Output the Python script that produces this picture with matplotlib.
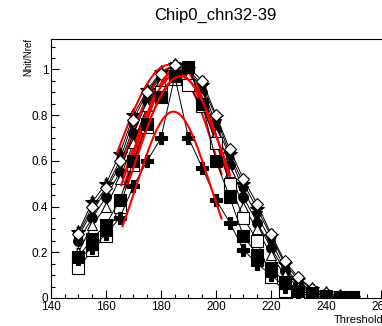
import numpy as np
import matplotlib
matplotlib.use("Agg")
import matplotlib.pyplot as plt
from matplotlib.ticker import MultipleLocator

plt.rcParams['font.family'] = ['Liberation Sans', 'DejaVu Sans']

title = "Chip0_chn32-39"
xlabel = "Threshold"
ylabel = "Nhit/Nref"

thresholds = [150, 155, 160, 165, 170, 175, 180, 185, 190, 195, 200,
              205, 210, 215, 220, 225, 230, 235, 240, 245, 250]

chn32 = [0.29, 0.42, 0.50, 0.63, 0.80, 0.91, 0.99, 1.02, 1.00, 0.93, 0.79,
         0.63, 0.50, 0.39, 0.27, 0.15, 0.08, 0.04, 0.02, 0.01, 0.00]
chn33 = [0.27, 0.38, 0.47, 0.58, 0.75, 0.88, 0.97, 1.01, 0.99, 0.92, 0.76,
         0.62, 0.47, 0.36, 0.25, 0.13, 0.07, 0.03, 0.01, 0.00, 0.00]
chn34 = [0.25, 0.35, 0.44, 0.55, 0.72, 0.86, 0.96, 1.00, 0.98, 0.90, 0.74,
         0.58, 0.44, 0.33, 0.22, 0.12, 0.06, 0.02, 0.01, 0.00, 0.00]
chn35 = [0.20, 0.32, 0.40, 0.52, 0.68, 0.84, 0.95, 1.00, 0.97, 0.88, 0.72,
         0.55, 0.40, 0.30, 0.19, 0.10, 0.05, 0.02, 0.01, 0.00, 0.00]
chn36 = [0.28, 0.40, 0.48, 0.60, 0.78, 0.90, 0.98, 1.02, 1.01, 0.95, 0.80,
         0.65, 0.52, 0.41, 0.28, 0.16, 0.09, 0.04, 0.02, 0.01, 0.00]
chn37 = [0.13, 0.21, 0.27, 0.40, 0.58, 0.75, 0.90, 0.96, 0.93, 0.84, 0.68,
         0.50, 0.35, 0.25, 0.09, 0.03, 0.00, 0.00, 0.00, 0.00, 0.00]
chn38 = [0.17, 0.22, 0.28, 0.35, 0.49, 0.60, 0.70, 0.97, 0.70, 0.57, 0.43,
         0.33, 0.21, 0.15, 0.10, 0.05, 0.02, 0.01, 0.00, 0.00, 0.00]
chn39 = [0.18, 0.26, 0.32, 0.43, 0.60, 0.76, 0.88, 0.97, 1.01, 0.85, 0.60,
         0.44, 0.27, 0.19, 0.13, 0.07, 0.03, 0.02, 0.01, 0.005, 0.005]

channels = [chn32, chn33, chn34, chn35, chn36, chn37, chn38, chn39]
errors = [0.02] * len(thresholds)

# Gaussian fit parameters per channel: amplitude, mean, sigma, range low, range high
fit_amp = [1.02, 1.01, 1.00, 1.01, 0.99, 0.98, 0.815, 0.97]
fit_mean = [183.0, 184.5, 185.5, 186.5, 185.0, 186.0, 184.5, 187.0]
fit_sigma = [19.5, 18.0, 17.0, 16.0, 15.5, 17.5, 13.4, 16.5]
fit_lo = [164.0, 165.0, 166.5, 167.0, 167.0, 165.5, 166.0, 168.0]
fit_hi = [204.0, 205.0, 204.0, 204.5, 202.0, 205.0, 202.0, 205.0]

markers = ['*', 'v', 'o', '^', 'D', 's', 'P', 's']
filled = [True, True, True, False, False, False, True, True]
msizes = [10, 7, 7, 7, 6, 8, 9, 8]

fig = plt.figure(figsize=(3.82, 3.26), dpi=100)
ax = fig.add_axes([51/382, 1-298/326, 121*2.75/382, (298-38.5)/326])

for i, ys in enumerate(channels):
    fc = 'black' if filled[i] else 'white'
    ax.errorbar(thresholds, ys, yerr=errors, color='black', lw=0.7,
                elinewidth=0.7, capsize=1.5, marker=markers[i], ms=msizes[i],
                mfc=fc, mec='black', mew=0.8, zorder=2 + 2*i)
    xf = np.linspace(fit_lo[i], fit_hi[i], 200)
    yf = fit_amp[i] * np.exp(-0.5 * ((xf - fit_mean[i]) / fit_sigma[i])**2)
    ax.plot(xf, yf, color='red', lw=1.5, zorder=3 + 2*i)

ax.set_xlim(140, 261)
ax.set_ylim(0, 1.135)
ax.xaxis.set_major_locator(MultipleLocator(20))
ax.xaxis.set_minor_locator(MultipleLocator(5))
ax.yaxis.set_major_locator(MultipleLocator(0.2))
ax.yaxis.set_minor_locator(MultipleLocator(0.05))
ax.tick_params(which='both', direction='in', top=False, right=False,
               labelsize=8.5, width=0.8, pad=2)
ax.tick_params(which='major', length=6)
ax.tick_params(which='minor', length=3)
ax.set_xticks([140, 160, 180, 200, 220, 240, 260])
ax.set_xticklabels(['140', '160', '180', '200', '220', '240', '260'])
ax.set_yticks([0, 0.2, 0.4, 0.6, 0.8, 1.0])
ax.set_yticklabels(['0', '0.2', '0.4', '0.6', '0.8', '1'])
for sp in ax.spines.values():
    sp.set_linewidth(0.8)

fig.text(215/382, 1-15/326, title, ha='center', va='center', fontsize=12)
ax.text(1.0, -0.065, xlabel, transform=ax.transAxes, ha='right', va='top',
        fontsize=8)
fig.text(28/382, 1-38/326, ylabel, rotation=90, ha='center', va='top',
         fontsize=7)

fig.savefig("out.png", dpi=100)
